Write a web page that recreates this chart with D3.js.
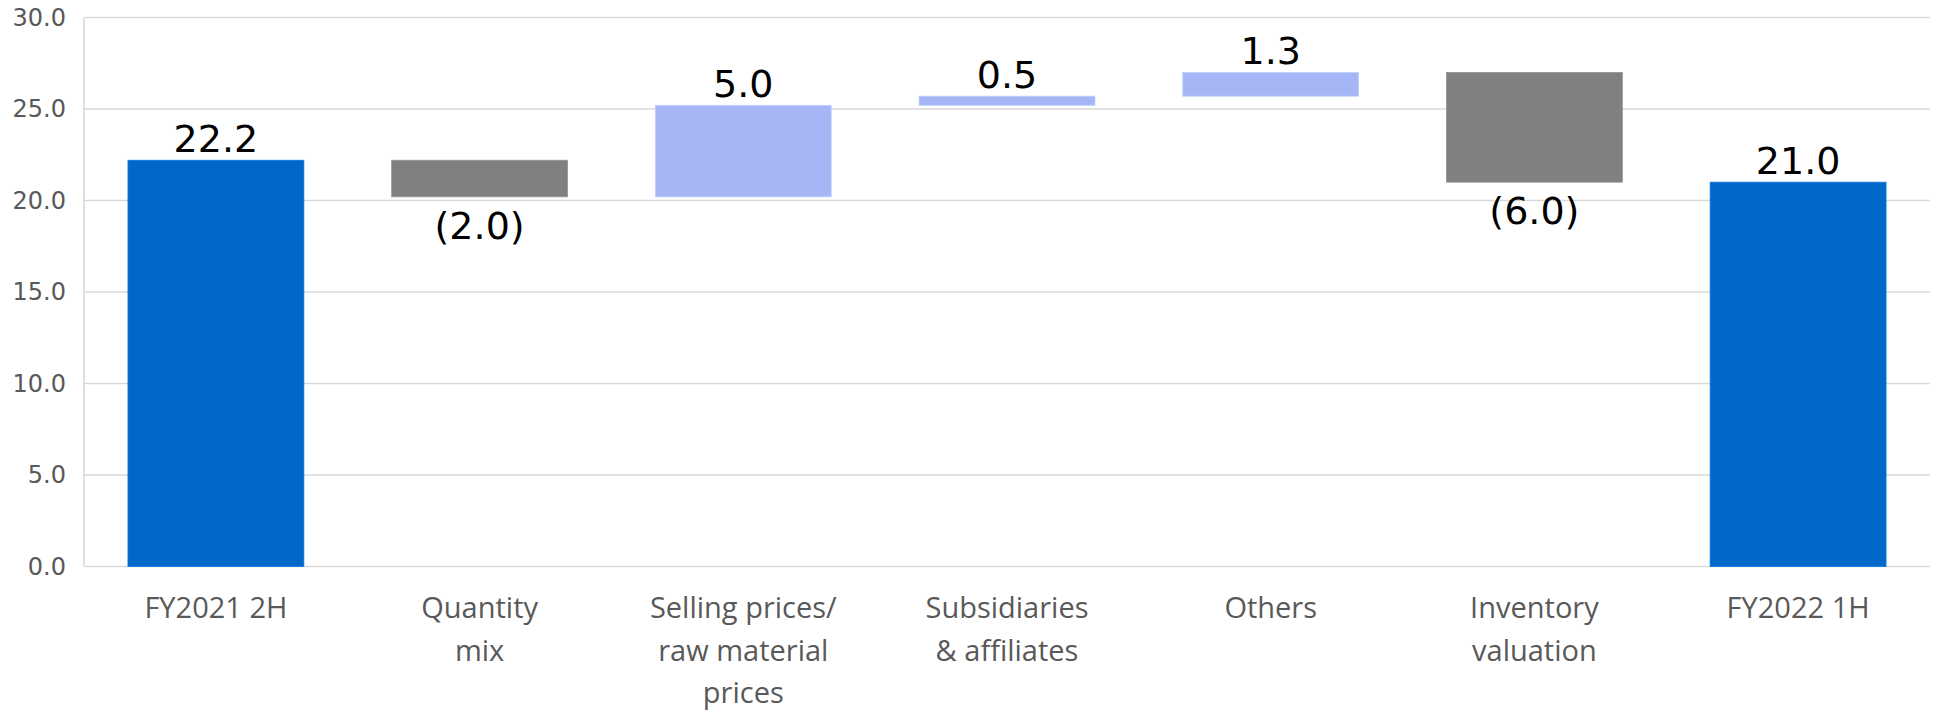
<!DOCTYPE html>
<html>
<head>
<meta charset="utf-8">
<script src="https://cdn.jsdelivr.net/npm/d3@7"></script>
<style>
  html, body { margin: 0; padding: 0; background: #ffffff; }
  svg { display: block; }
</style>
</head>
<body>
<svg id="chart" width="1935" height="710"></svg>
<script>
// Operating income bridge: FY2021 2H -> FY2022 1H
const categories = [
  ["FY2021 2H"],
  ["Quantity", "mix"],
  ["Selling prices/", "raw material", "prices"],
  ["Subsidiaries", "& affiliates"],
  ["Others"],
  ["Inventory", "valuation"],
  ["FY2022 1H"]
];
const kinds = ["total", "delta", "delta", "delta", "delta", "delta", "total"];
const values = [22.2, -2.0, 5.0, 0.5, 1.3, -6.0, 21.0];
const yTicks = [0, 5, 10, 15, 20, 25, 30];

const colors = { total: "#0068c9", up: "#a6b5f5", down: "#808080" };

const svg = d3.select("#chart");
const plotLeft = 84, plotRight = 1930, plotTop = 17.5, plotBottom = 566.5;

const x = d3.scaleBand()
  .domain(d3.range(categories.length))
  .range([plotLeft, plotRight])
  .paddingInner(0.333)
  .paddingOuter(0.1667);

const y = d3.scaleLinear().domain([0, 30]).range([plotBottom, plotTop]);

// Build waterfall segments from the running total
let running = 0;
const bars = values.map((v, i) => {
  let lo, hi;
  if (kinds[i] === "total") {
    lo = 0; hi = v; running = v;
  } else {
    const start = running;
    running = start + v;
    lo = Math.min(start, running); hi = Math.max(start, running);
  }
  const fill = kinds[i] === "total" ? colors.total : (v >= 0 ? colors.up : colors.down);
  return { i, v, lo, hi, fill, kind: kinds[i] };
});

// Gridlines
svg.append("g")
  .selectAll("line")
  .data(yTicks)
  .join("line")
  .attr("x1", plotLeft).attr("x2", plotRight)
  .attr("y1", d => y(d)).attr("y2", d => y(d))
  .attr("stroke", "#d9d9d9")
  .attr("stroke-width", 1.6);

// Left axis line
svg.append("line")
  .attr("x1", plotLeft).attr("x2", plotLeft)
  .attr("y1", y(30)).attr("y2", y(0))
  .attr("stroke", "#d9d9d9")
  .attr("stroke-width", 1.6);

// Y-axis tick labels
const yAxis = d3.axisLeft(y).tickValues(yTicks).tickFormat(d3.format(".1f")).tickSize(0).tickPadding(18);
const yg = svg.append("g").attr("transform", `translate(${plotLeft},0)`).call(yAxis);
yg.select(".domain").remove();
yg.selectAll("text")
  .attr("font-family", "'DejaVu Sans', Verdana, sans-serif")
  .attr("font-size", 24)
  .attr("fill", "#595959");

// Bars
const bw = x.bandwidth();
svg.append("g")
  .selectAll("rect")
  .data(bars)
  .join("rect")
  .attr("x", d => x(d.i))
  .attr("width", bw)
  .attr("y", d => y(d.hi))
  .attr("height", d => y(d.lo) - y(d.hi))
  .attr("fill", d => d.fill)
  .attr("stroke", d => d3.color(d.fill).brighter(0.4))
  .attr("stroke-width", 0.8);

// Value labels
const fmt = v => v < 0 ? `(${d3.format(".1f")(-v)})` : d3.format(".1f")(v);
svg.append("g")
  .selectAll("text")
  .data(bars)
  .join("text")
  .attr("x", d => x(d.i) + bw / 2)
  .attr("y", d => d.v < 0 ? y(d.lo) + 42 : y(d.hi) - 8.5)
  .attr("text-anchor", "middle")
  .attr("font-family", "'DejaVu Sans', Verdana, sans-serif")
  .attr("font-size", 38)
  .attr("fill", "#000000")
  .text(d => fmt(d.v));

// Category labels (multi-line)
const xl = svg.append("g")
  .selectAll("text")
  .data(categories)
  .join("text")
  .attr("text-anchor", "middle")
  .attr("font-family", "'Open Sans', sans-serif")
  .attr("font-size", 29)
  .attr("fill", "#595959")
  .attr("transform", (d, i) => `translate(${x(i) + bw / 2},618)`);
xl.selectAll("tspan")
  .data(d => d)
  .join("tspan")
  .attr("x", 0)
  .attr("y", (d, j) => j * 42.6)
  .text(d => d);
</script>
</body>
</html>
